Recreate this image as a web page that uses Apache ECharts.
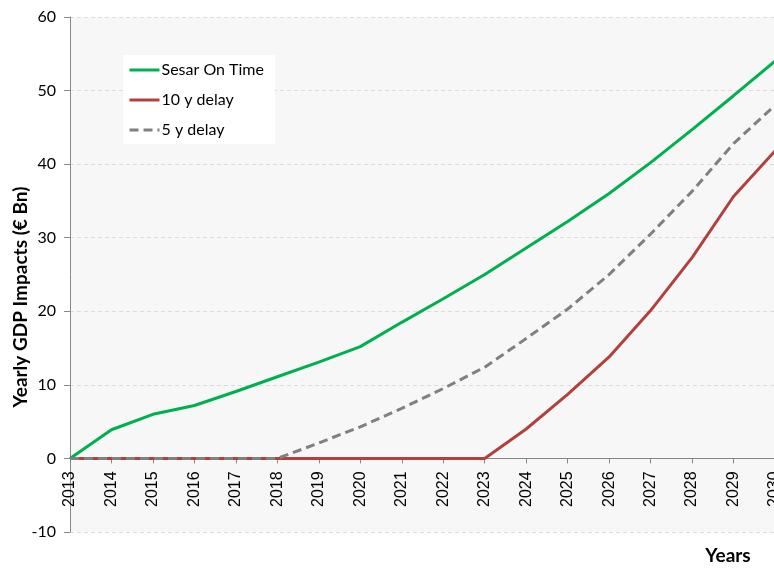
<!DOCTYPE html>
<html>
<head>
<meta charset="utf-8">
<script src="https://cdn.jsdelivr.net/npm/echarts@6/dist/echarts.min.js"></script>
<style>
html,body{margin:0;padding:0;background:#fff;}
#c{width:774px;height:568px;}
</style>
</head>
<body>
<div id="c"></div>
<script>
const years = ['2013','2014','2015','2016','2017','2018','2019','2020','2021','2022','2023','2024','2025','2026','2027','2028','2029','2030'];
const sesarOnTime = [0,3.9,6.0,7.2,9.1,11.1,13.1,15.2,18.5,21.7,25.0,28.6,32.2,36.0,40.2,44.7,49.3,54.0];
const delay10 = [0,0,0,0,0,0,0,0,0,0,0,4.0,8.7,13.8,20.1,27.3,35.6,41.8];
const delay5 = [0,0,0,0,0,0,2.1,4.3,6.8,9.5,12.4,16.3,20.3,25.0,30.5,36.3,42.8,48.0];
const yTicks = {min:-10, max:60, interval:10};

const W = 774, H = 568;
const gridTop = 17, gridBottom = 36;
const gridH = H - gridTop - gridBottom;
// shift the category axis up so it sits on the y = 0 line
const xOffset = -gridH * (0 - yTicks.min) / (yTicks.max - yTicks.min);

const chart = echarts.init(document.getElementById('c'), null, {renderer:'canvas'});
const font = 'Lato, "Open Sans", sans-serif';
chart.setOption({
  animation:false,
  backgroundColor:'#ffffff',
  grid:{left:70, top:gridTop, width:705, bottom:gridBottom, show:true, backgroundColor:'#f7f7f7', borderWidth:0, containLabel:false, outerBoundsMode:'none'},
  legend:{
    orient:'vertical', left:123, top:55,
    backgroundColor:'#ffffff', padding:[7,11,6,5],
    itemWidth:30, itemHeight:10, itemGap:14,
    itemStyle:{opacity:0},
    lineStyle:{width:3},
    textStyle:{fontFamily:font, fontSize:16, color:'#000', padding:[0,0,0,-3]},
    data:['Sesar On Time','10 y delay','5 y delay']
  },
  xAxis:{
    type:'category', data:years, boundaryGap:false,
    position:'bottom', offset:xOffset,
    axisLine:{onZero:false, lineStyle:{color:'#888', width:1}},
    axisTick:{show:true, alignWithLabel:true, length:5, lineStyle:{color:'#888'}},
    axisLabel:{rotate:90, margin:13, fontFamily:'"Liberation Sans", Arial, sans-serif', fontSize:16, color:'#000', interval:0},
    splitLine:{show:false}
  },
  yAxis:{
    type:'value', min:yTicks.min, max:yTicks.max, interval:yTicks.interval,
    axisLine:{show:true, onZero:false, lineStyle:{color:'#888', width:1}},
    axisTick:{show:true, length:6, lineStyle:{color:'#888'}},
    axisLabel:{margin:14, fontFamily:font, fontSize:16, color:'#000'},
    splitLine:{show:true, lineStyle:{color:'#dcdcdc', type:[4,3], width:1}}
  },
  series:[
    {name:'Sesar On Time', type:'line', data:sesarOnTime, symbol:'none', lineStyle:{color:'#00b050', width:3}, itemStyle:{color:'#00b050'}},
    {name:'10 y delay', type:'line', data:delay10, symbol:'none', lineStyle:{color:'#b0413e', width:3}, itemStyle:{color:'#b0413e'}},
    {name:'5 y delay', type:'line', data:delay5, symbol:'none', lineStyle:{color:'#808080', width:3, type:[9,5]}, itemStyle:{color:'#808080'}}
  ],
  graphic:[
    {type:'text', x:21, y:297, rotation:Math.PI/2, style:{text:'Yearly GDP Impacts (€ Bn)', fontFamily:font, fontWeight:'bold', fontSize:19, fill:'#000', align:'center', verticalAlign:'middle'}},
    {type:'text', x:728, y:556, style:{text:'Years', fontFamily:font, fontWeight:'bold', fontSize:19, fill:'#000', align:'center', verticalAlign:'middle'}}
  ]
});
</script>
</body>
</html>
